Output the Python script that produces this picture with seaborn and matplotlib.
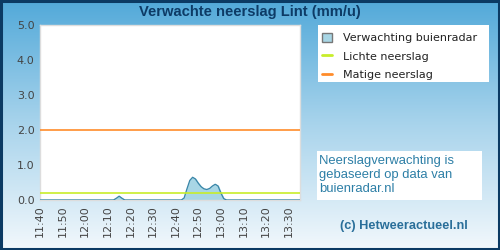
import numpy as np
import pandas as pd
import matplotlib
matplotlib.use("Agg")
import matplotlib.pyplot as plt
import seaborn as sns
from matplotlib.colors import LinearSegmentedColormap
from matplotlib.patches import Rectangle, Patch
from matplotlib.lines import Line2D

# ---- data ----
minutes = [0, 5, 10, 15, 20, 25, 30, 32.5, 33.75, 35, 36.25, 37.5, 40, 45, 50, 55, 60,
           62.5, 63.75, 65, 66.25, 67.5, 68.75, 70, 71.25, 72.5, 73.75, 75, 76.25,
           77.5, 78.75, 80, 81.25, 82.5, 85, 90, 95, 100, 105, 110, 115]
values = [0, 0, 0, 0, 0, 0, 0, 0, 0.05, 0.11, 0.05, 0, 0, 0, 0, 0, 0,
          0, 0.06, 0.32, 0.56, 0.65, 0.6, 0.48, 0.38, 0.32, 0.3, 0.33, 0.4,
          0.45, 0.4, 0.2, 0.04, 0, 0, 0, 0, 0, 0, 0, 0]
tick_minutes = [0, 10, 20, 30, 40, 50, 60, 70, 80, 90, 100, 110]
tick_labels = ["11:40", "11:50", "12:00", "12:10", "12:20", "12:30",
               "12:40", "12:50", "13:00", "13:10", "13:20", "13:30"]
y_ticks = [0, 1, 2, 3, 4, 5]
light_level = 0.2
moderate_level = 2.0
title = "Verwachte neerslag Lint (mm/u)"
legend_labels = ["Verwachting buienradar", "Lichte neerslag", "Matige neerslag"]
info_text = "Neerslagverwachting is\ngebaseerd op data van\nbuienradar.nl"
credit = "(c) Hetweeractueel.nl"

df = pd.DataFrame({"t": minutes, "v": values})

sns.set_style("white")
plt.rcParams['font.family'] = ['DejaVu Sans']

fig = plt.figure(figsize=(5, 2.5), dpi=100)

# gradient background
bg = fig.add_axes([0, 0, 1, 1])
cmap = LinearSegmentedColormap.from_list("bg", ["#52a9d9", "#a9d4ec", "#f2f8fc"])
grad = np.linspace(0, 1, 256).reshape(-1, 1)
bg.imshow(grad, aspect="auto", cmap=cmap, extent=[0, 1, 0, 1], origin="upper")
bg.set_xlim(0, 1); bg.set_ylim(0, 1)
bg.axis("off")
bg.add_patch(Rectangle((0.002, 0.004), 0.996, 0.992, fill=False, edgecolor="#0b3a63",
                       linewidth=2.2, transform=bg.transAxes))
bg.text(0.5, 0.952, title, ha="center", va="center", fontsize=10.6, fontweight="bold",
        color="#0d3b66", family="Liberation Sans")

# legend box
bg.add_patch(Rectangle((318/500, 1-82/250), 171/500, 57/250, facecolor="white", edgecolor="none"))
# info box
bg.add_patch(Rectangle((317/500, 1-200/250), 165/500, 49/250, facecolor="white", edgecolor="none"))
bg.text(319/500, 1-155/250, info_text, ha="left", va="top", fontsize=9.4,
        color="#2d7fa6", family="Liberation Sans", linespacing=1.2)
bg.text(404/500, 1-226/250, credit, ha="center", va="center", fontsize=9.2,
        fontweight="bold", color="#2a6f9a", family="Liberation Sans")

ax = fig.add_axes([40/500, 50/250, 260/500, 175/250])
ax.set_facecolor("white")
ax.fill_between(df["t"], df["v"], 0, color="#a8d6e5", zorder=2)
sns.lineplot(data=df, x="t", y="v", ax=ax, color="#3a86a8", linewidth=0.9, zorder=3)
ax.axhline(light_level, color="#c8ee2a", linewidth=1.2, zorder=4)
ax.axhline(moderate_level, color="#ff8c2a", linewidth=1.2, zorder=4)

ax.set_xlim(0, 115)
ax.set_ylim(0, 5)
ax.set_xticks(tick_minutes)
ax.set_xticklabels(tick_labels, rotation=90, fontsize=8, color="#444444")
ax.set_yticks(y_ticks)
ax.set_yticklabels([f"{v:.1f}" for v in y_ticks], fontsize=8, color="#444444")
ax.tick_params(length=0, pad=4)
ax.set_xlabel(""); ax.set_ylabel("")
for s in ax.spines.values():
    s.set_color("#dddddd")
    s.set_linewidth(1)

# legend
handles = [Patch(facecolor="#a8d6e5", edgecolor="#777777", linewidth=1),
           Line2D([0], [0], color="#c8ee2a", linewidth=2),
           Line2D([0], [0], color="#ff8c2a", linewidth=2)]
leg = fig.legend(handles, legend_labels, loc="upper left", bbox_to_anchor=(322/500, 1-33/250),
                 frameon=False, fontsize=8, handlelength=0.9, handleheight=0.8,
                 labelspacing=0.75, handletextpad=1.0, borderaxespad=0, borderpad=0)
for t in leg.get_texts():
    t.set_color("#222222")

fig.savefig("out.png", dpi=100)
